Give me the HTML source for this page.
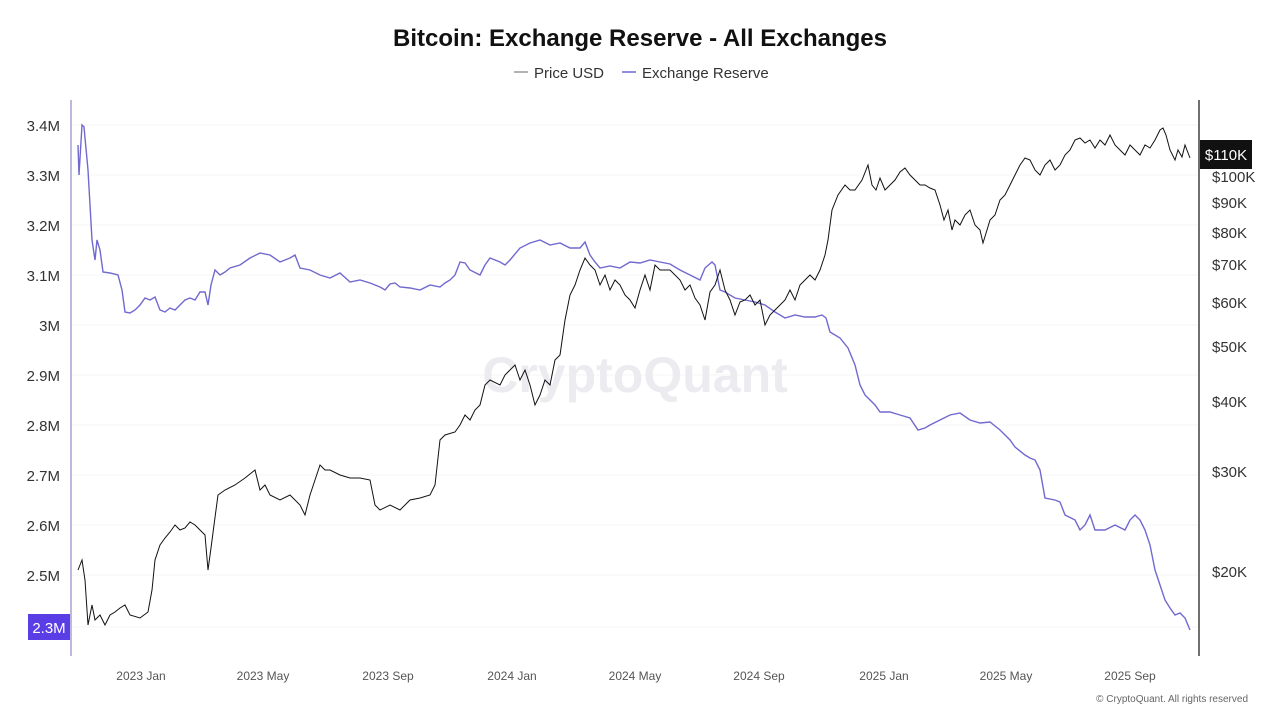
<!DOCTYPE html>
<html><head><meta charset="utf-8"><style>
body{margin:0;background:#fff;font-family:"Liberation Sans",sans-serif;}
</style></head><body>
<svg width="1280" height="720" viewBox="0 0 1280 720" xmlns="http://www.w3.org/2000/svg" font-family="Liberation Sans, sans-serif">
<rect width="1280" height="720" fill="#fff"/>
<text x="640" y="46" text-anchor="middle" font-size="24" font-weight="bold" fill="#111">Bitcoin: Exchange Reserve - All Exchanges</text>
<line x1="514" y1="72" x2="528" y2="72" stroke="#999" stroke-width="1.5"/>
<text x="534" y="78" font-size="15" fill="#333">Price USD</text>
<line x1="622" y1="72" x2="636" y2="72" stroke="#6f67d4" stroke-width="1.5"/>
<text x="642" y="78" font-size="15" fill="#333">Exchange Reserve</text>
<g stroke="#f6f6f6" stroke-width="1">
<line x1="72" y1="125" x2="1198" y2="125"/><line x1="72" y1="175" x2="1198" y2="175"/><line x1="72" y1="225" x2="1198" y2="225"/><line x1="72" y1="275" x2="1198" y2="275"/><line x1="72" y1="325" x2="1198" y2="325"/><line x1="72" y1="375" x2="1198" y2="375"/><line x1="72" y1="425" x2="1198" y2="425"/><line x1="72" y1="475" x2="1198" y2="475"/><line x1="72" y1="525" x2="1198" y2="525"/><line x1="72" y1="575" x2="1198" y2="575"/><line x1="72" y1="627" x2="1198" y2="627"/>
</g>
<line x1="71" y1="100" x2="71" y2="656" stroke="#8e8ac8" stroke-width="1.2"/>
<line x1="1199" y1="100" x2="1199" y2="656" stroke="#111" stroke-width="1.2"/>
<g font-size="15" fill="#333" text-anchor="end">
<text x="60" y="131">3.4M</text><text x="60" y="181">3.3M</text><text x="60" y="231">3.2M</text><text x="60" y="281">3.1M</text><text x="60" y="331">3M</text><text x="60" y="381">2.9M</text><text x="60" y="431">2.8M</text><text x="60" y="481">2.7M</text><text x="60" y="531">2.6M</text><text x="60" y="581">2.5M</text><text x="60" y="632">2</text>
</g>
<rect x="28" y="614" width="42" height="26" fill="#5b3de6"/>
<text x="49" y="633" font-size="15" fill="#fff" text-anchor="middle">2.3M</text>
<g font-size="15" fill="#333">
<text x="1212" y="182">$100K</text><text x="1212" y="208">$90K</text><text x="1212" y="238">$80K</text><text x="1212" y="270">$70K</text><text x="1212" y="308">$60K</text><text x="1212" y="352">$50K</text><text x="1212" y="407">$40K</text><text x="1212" y="477">$30K</text><text x="1212" y="577">$20K</text>
</g>
<rect x="1200" y="140" width="52" height="29" fill="#111"/>
<text x="1226" y="160" font-size="15" fill="#fff" text-anchor="middle">$110K</text>
<g font-size="12" fill="#555" text-anchor="middle">
<text x="141" y="680">2023 Jan</text><text x="263" y="680">2023 May</text><text x="388" y="680">2023 Sep</text><text x="512" y="680">2024 Jan</text><text x="635" y="680">2024 May</text><text x="759" y="680">2024 Sep</text><text x="884" y="680">2025 Jan</text><text x="1006" y="680">2025 May</text><text x="1130" y="680">2025 Sep</text>
</g>
<text x="1248" y="702" font-size="10" fill="#666" text-anchor="end">© CryptoQuant. All rights reserved</text>
<text x="635" y="392" font-size="50" fill="#ececf0" text-anchor="middle" font-weight="bold">CryptoQuant</text>
<polyline fill="none" stroke="#7069d0" stroke-width="1.4" points="78,145 79,175 82,125 84,127 88,170 92,240 95,260 97,240 100,250 103,272 110,273 118,275 122,290 125,312 130,313 135,310 140,305 145,298 150,300 155,297 160,310 165,312 170,308 175,310 180,305 185,300 190,298 195,300 200,292 205,292 208,305 211,285 215,270 220,275 225,272 230,268 240,265 250,258 260,253 270,255 280,262 290,258 295,255 300,268 310,270 320,275 330,278 340,273 350,282 360,280 370,283 380,287 385,290 390,284 395,283 400,287 410,288 420,290 430,285 440,287 445,283 450,280 455,275 460,262 465,263 470,270 480,275 485,265 490,258 500,262 505,265 510,260 520,248 530,243 540,240 550,245 560,243 570,248 580,248 585,242 590,255 595,262 600,268 610,266 620,268 630,262 640,263 650,260 660,262 670,264 680,270 690,275 700,280 705,268 712,262 715,265 720,290 725,292 735,298 745,300 755,302 765,305 775,312 785,318 795,315 805,317 815,317 822,315 826,318 830,332 840,338 848,348 855,365 860,385 865,395 875,405 880,412 890,412 900,415 910,418 918,430 925,428 930,425 940,420 950,415 960,413 970,420 980,423 990,422 1000,430 1010,440 1015,447 1025,455 1030,458 1035,460 1040,470 1045,498 1055,500 1060,502 1065,515 1075,520 1080,530 1085,525 1090,515 1095,530 1105,530 1115,525 1125,530 1130,520 1135,515 1140,520 1145,530 1150,545 1155,570 1160,585 1165,600 1170,608 1175,615 1180,613 1185,618 1190,630"/>
<polyline fill="none" stroke="#111" stroke-width="1" points="78,570 82,560 85,580 88,625 92,605 95,620 100,615 105,625 110,615 115,612 120,608 125,605 130,615 140,618 148,612 152,590 155,560 160,545 165,538 170,532 175,525 180,530 185,528 190,522 195,525 200,530 205,535 208,570 211,548 214,525 218,495 225,490 235,485 245,478 255,470 260,490 265,485 270,495 280,500 290,495 300,505 305,515 310,495 315,480 320,465 325,470 330,470 340,475 350,478 360,478 370,480 375,505 380,510 390,505 400,510 410,500 420,498 430,495 435,485 440,440 445,435 455,432 460,425 465,415 470,420 475,410 480,405 485,385 490,380 500,385 505,375 510,370 515,365 520,380 525,370 530,385 535,405 540,395 545,380 550,385 555,360 560,355 565,320 570,295 575,285 580,270 585,258 590,265 595,270 600,285 605,275 610,290 615,280 620,285 625,295 630,300 635,308 640,290 645,275 650,290 655,265 660,270 670,270 680,280 685,290 690,285 695,298 700,305 705,320 710,292 715,285 720,270 725,290 730,300 735,315 740,302 745,300 750,295 755,305 760,300 765,325 770,315 775,310 780,305 785,300 790,290 795,300 800,285 805,280 810,275 815,280 820,270 825,255 828,240 832,210 838,195 845,185 850,190 855,190 862,180 868,165 872,185 876,190 880,178 885,190 890,185 895,180 900,172 905,168 910,175 915,180 920,185 925,185 930,188 935,190 940,205 944,220 948,210 952,230 955,220 960,225 965,215 970,210 975,225 980,230 983,243 987,230 990,220 995,215 1000,200 1005,195 1010,185 1015,175 1020,165 1025,158 1030,160 1035,170 1040,175 1045,165 1050,160 1055,170 1060,165 1065,155 1070,150 1075,140 1080,138 1085,143 1090,140 1095,148 1100,140 1105,145 1110,135 1115,145 1120,150 1125,155 1130,145 1135,150 1140,155 1145,145 1150,148 1155,140 1160,130 1163,128 1166,135 1170,150 1175,160 1178,150 1182,157 1185,145 1190,158"/>
</svg>
</body></html>
